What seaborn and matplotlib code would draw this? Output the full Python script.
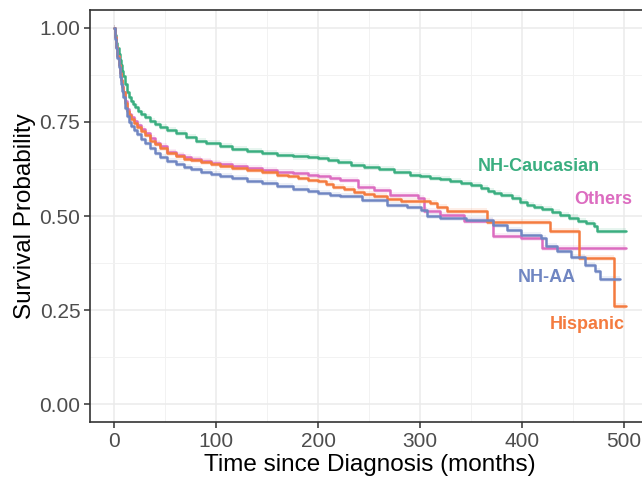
import numpy as np
import pandas as pd
import matplotlib
matplotlib.use("Agg")
import matplotlib.pyplot as plt
from matplotlib.ticker import MultipleLocator
import seaborn as sns

groups = ["NH-Caucasian", "Others", "Hispanic", "NH-AA"]

cau_t = [0, 1, 2, 3, 4, 5, 6, 7, 8, 10, 12, 14, 16, 18, 20, 23, 26, 30, 35, 40, 45, 52, 60, 70,
         80, 90, 104, 115, 130, 145, 160, 175, 190, 200, 210, 220, 232, 245, 260, 275, 290, 300,
         310, 320, 330, 340, 350, 360, 367, 373, 380, 390, 398, 405, 412, 420, 430, 438, 446,
         455, 463, 471, 474, 502]
cau_s = [1.0, 0.98, 0.96, 0.945, 0.93, 0.915, 0.90, 0.885, 0.872, 0.85, 0.83, 0.817, 0.806,
         0.797, 0.79, 0.78, 0.772, 0.763, 0.752, 0.744, 0.737, 0.729, 0.72, 0.71, 0.70, 0.693,
         0.685, 0.679, 0.672, 0.667, 0.662, 0.658, 0.656, 0.654, 0.649, 0.643, 0.636, 0.631,
         0.625, 0.618, 0.61, 0.605, 0.601, 0.597, 0.592, 0.587, 0.583, 0.574, 0.567, 0.561,
         0.556, 0.547, 0.538, 0.530, 0.524, 0.518, 0.510, 0.503, 0.496, 0.488, 0.481, 0.474,
         0.460, 0.460]

oth_t = [0, 1, 2, 3, 4, 5, 6, 7, 8, 10, 12, 14, 16, 19, 22, 26, 30, 35, 40, 45, 52, 60, 68, 75,
         85, 95, 104, 115, 130, 145, 160, 175, 190, 200, 212, 222, 239, 255, 271, 298, 304, 320,
         343, 372, 399, 420, 502]
oth_s = [1.0, 0.975, 0.95, 0.925, 0.90, 0.88, 0.86, 0.845, 0.83, 0.805, 0.785, 0.772, 0.762,
         0.752, 0.742, 0.73, 0.72, 0.708, 0.695, 0.685, 0.67, 0.662, 0.656, 0.652, 0.647, 0.642,
         0.638, 0.633, 0.628, 0.623, 0.618, 0.613, 0.609, 0.605, 0.600, 0.596, 0.578, 0.570,
         0.556, 0.548, 0.512, 0.503, 0.486, 0.447, 0.441, 0.415, 0.415]

his_t = [0, 1, 2, 3, 4, 5, 6, 7, 8, 10, 12, 14, 16, 19, 22, 26, 30, 35, 40, 45, 52, 60, 68, 75,
         85, 95, 104, 115, 130, 145, 160, 170, 180, 190, 200, 208, 215, 225, 235, 245, 255, 268,
         281, 310, 317, 327, 366, 428, 456, 491, 502]
his_s = [1.0, 0.975, 0.95, 0.925, 0.90, 0.88, 0.86, 0.842, 0.828, 0.80, 0.78, 0.767, 0.757,
         0.747, 0.737, 0.725, 0.714, 0.70, 0.69, 0.68, 0.667, 0.658, 0.652, 0.648, 0.643, 0.638,
         0.634, 0.628, 0.622, 0.616, 0.61, 0.605, 0.60, 0.596, 0.592, 0.585, 0.578, 0.572, 0.565,
         0.559, 0.552, 0.546, 0.539, 0.534, 0.525, 0.512, 0.484, 0.460, 0.388, 0.262, 0.262]

aa_t = [0, 1, 2, 3, 4, 5, 6, 7, 8, 10, 12, 14, 16, 19, 22, 26, 30, 35, 40, 45, 52, 60, 68, 75,
        85, 95, 104, 115, 130, 145, 160, 175, 190, 200, 212, 222, 243, 268, 287, 301, 307, 320,
        345, 372, 386, 399, 419, 424, 435, 448, 462, 472, 477, 497]
aa_s = [1.0, 0.97, 0.945, 0.92, 0.895, 0.87, 0.85, 0.832, 0.815, 0.787, 0.765, 0.75, 0.74,
        0.729, 0.718, 0.705, 0.693, 0.68, 0.668, 0.657, 0.645, 0.637, 0.630, 0.625, 0.618,
        0.611, 0.605, 0.600, 0.593, 0.587, 0.58, 0.573, 0.566, 0.561, 0.556, 0.552, 0.543,
        0.530, 0.525, 0.517, 0.499, 0.495, 0.490, 0.477, 0.463, 0.450, 0.441, 0.42, 0.406,
        0.391, 0.371, 0.353, 0.333, 0.333]

colors = {"NH-Caucasian": "#3AAE80", "Others": "#DC6CC0", "Hispanic": "#F47B3F", "NH-AA": "#7086C2"}

x_ticks = [0, 100, 200, 300, 400, 500]
y_ticks = [0.0, 0.25, 0.5, 0.75, 1.0]
y_tick_labels = ["0.00", "0.25", "0.50", "0.75", "1.00"]

label_pos = {"NH-Caucasian": (357, 0.631), "Others": (452, 0.543),
             "NH-AA": (396, 0.336), "Hispanic": (428, 0.211)}

series = {"NH-Caucasian": (cau_t, cau_s), "Others": (oth_t, oth_s),
          "Hispanic": (his_t, his_s), "NH-AA": (aa_t, aa_s)}

rows = []
for g in groups:
    t, s = series[g]
    for ti, si in zip(t, s):
        rows.append({"time": ti, "surv": si, "group": g})
df = pd.DataFrame(rows)

sns.set_theme(style="whitegrid")
plt.rcParams["font.family"] = ["Liberation Sans", "DejaVu Sans"]

fig = plt.figure(figsize=(6.42, 4.91), dpi=100)
ax = fig.add_axes([90 / 642, (491 - 422) / 491, 559 / 642, 412 / 491])

# faint confidence bands
for g in groups:
    t, s = series[g]
    s = np.array(s)
    ax.fill_between(t, s - 0.008, s + 0.008, step="post", color=colors[g], alpha=0.12, lw=0)

sns.lineplot(data=df, x="time", y="surv", hue="group", hue_order=groups, palette=colors,
             drawstyle="steps-post", estimator=None, linewidth=1.8, legend=False, ax=ax)

ax.set_xlim(-24, 525)
ax.set_ylim(-0.047, 1.047)
ax.set_xticks(x_ticks)
ax.set_yticks(y_ticks)
ax.set_yticklabels(y_tick_labels)
ax.xaxis.set_minor_locator(MultipleLocator(50))
ax.yaxis.set_minor_locator(MultipleLocator(0.125))
ax.grid(which="major", color="#EBEBEB", linewidth=1.1)
ax.grid(which="minor", color="#F2F2F2", linewidth=0.7)
ax.set_axisbelow(True)
ax.set_facecolor("white")
for sp in ax.spines.values():
    sp.set_color("#333333")
    sp.set_linewidth(1.2)
ax.tick_params(axis="both", which="major", length=4, width=1.1, color="#333333",
               labelsize=15, labelcolor="#4D4D4D", pad=3, bottom=True, left=True)
ax.tick_params(which="minor", length=0)

ax.set_xlabel("Time since Diagnosis (months)", fontsize=17.5, color="black", labelpad=2)
ax.set_ylabel("Survival Probability", fontsize=17.5, color="black", labelpad=2)

for g in groups:
    x, y = label_pos[g]
    ax.text(x, y, g, color=colors[g], fontsize=13, fontweight="bold", ha="left", va="center")

fig.savefig("out.png", dpi=100)
